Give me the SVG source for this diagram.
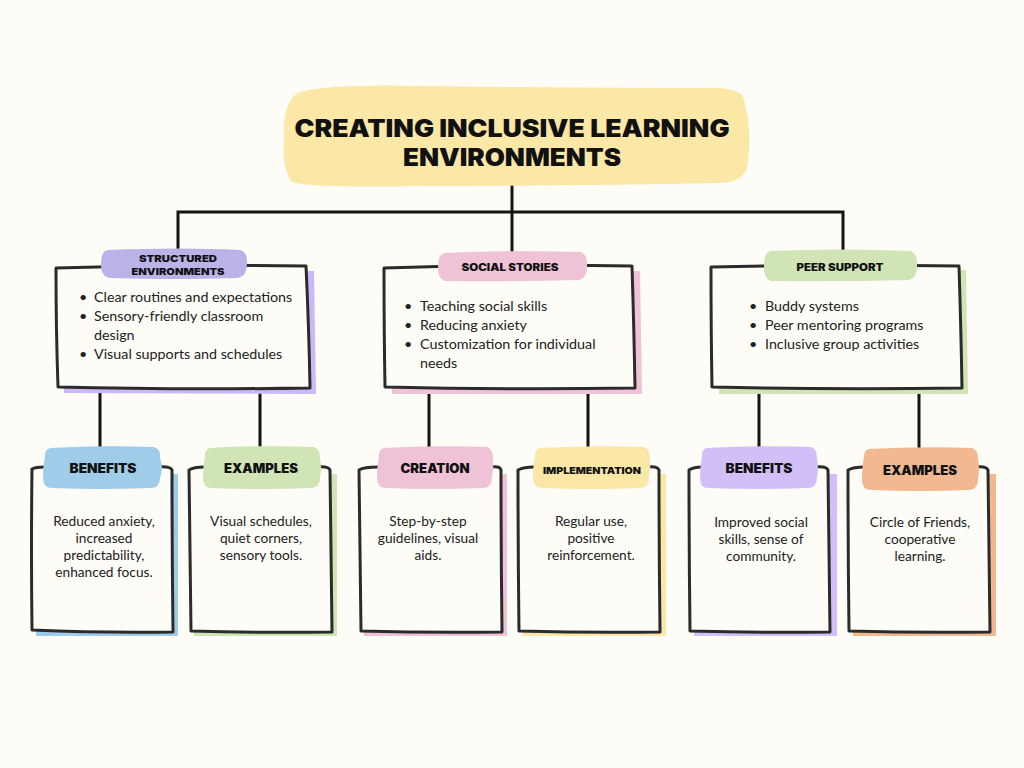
<svg xmlns="http://www.w3.org/2000/svg" width="1024" height="768" viewBox="0 0 1024 768">
<style>
.bg{fill:#fdfcf7}
.box{fill:#fdfcf7;stroke:#2b2b2b;stroke-width:3;stroke-linejoin:round;stroke-linecap:round}
.conn{stroke:#141414;stroke-width:3;fill:none;stroke-linecap:square}
.h{font-family:Inter,"DejaVu Sans",sans-serif;font-weight:900;fill:#111;text-anchor:middle}
.b{font-family:Lato,"Noto Sans",sans-serif;font-size:14.3px;fill:#222}
.c{font-family:Lato,"Noto Sans",sans-serif;font-size:13.7px;fill:#222;text-anchor:middle}
</style>
<rect class="bg" width="1024" height="768"/>

<g id="connectors">
<path class="conn" d="M512 186 V212 M178 212 H843 M178 212 V252 M512 212 V254 M843 212 V252"/>
<path class="conn" d="M100 389 V447 M260 389 V447 M429 389 V447 M588 389 V447 M759 389 V447 M919 389 V447"/>
</g>

<g id="title">
<path d="M300 92 Q330 84 420 86 Q560 88 700 88 Q742 86 744 100 Q752 130 748 160 Q748 182 720 183 Q560 186 420 186 Q310 188 292 182 Q282 170 284 140 Q282 100 300 92 Z" fill="#fbe8a6"/>
<text class="h" x="512" y="137" font-size="24" textLength="435" lengthAdjust="spacingAndGlyphs">CREATING INCLUSIVE LEARNING</text>
<text class="h" x="512" y="166" font-size="24" textLength="218" lengthAdjust="spacingAndGlyphs">ENVIRONMENTS</text>
</g>

<g id="structured">
<path d="M62 273 L314 271 L316 394 L64 393 Z" fill="#cbb8f7"/>
<path class="box" d="M56 268 Q180 264 306 266 Q309 330 310 388 Q180 390 58 387 Q56 330 56 268 Z"/>
<path d="M108 250 Q180 247 240 250 Q248 252 247 264 Q247 276 238 278 Q170 280 110 278 Q101 277 101 264 Q101 251 108 250 Z" fill="#bab3e8"/>
<text class="h" x="178" y="262" font-size="9.5" textLength="78" lengthAdjust="spacingAndGlyphs">STRUCTURED</text>
<text class="h" x="178" y="275" font-size="9.5" textLength="93" lengthAdjust="spacingAndGlyphs">ENVIRONMENTS</text>
<text class="b" x="79" y="302">•</text><text class="b" x="94" y="302">Clear routines and expectations</text>
<text class="b" x="79" y="321">•</text><text class="b" x="94" y="321">Sensory-friendly classroom</text>
<text class="b" x="94" y="340">design</text>
<text class="b" x="79" y="359">•</text><text class="b" x="94" y="359">Visual supports and schedules</text>
</g>

<g id="social">
<path d="M390 272 L640 271 L642 394 L392 394 Z" fill="#efc2d5"/>
<path class="box" d="M384 268 Q510 264 632 266 Q634 330 635 388 Q510 390 385 387 Q384 330 384 268 Z"/>
<path d="M445 253 Q512 250 580 252 Q588 254 587 266 Q587 279 578 280 Q512 282 446 281 Q438 280 438 267 Q438 254 445 253 Z" fill="#efc2d5"/>
<text class="h" x="510" y="271" font-size="10" textLength="97" lengthAdjust="spacingAndGlyphs">SOCIAL STORIES</text>
<text class="b" x="404" y="311">•</text><text class="b" x="420" y="311">Teaching social skills</text>
<text class="b" x="404" y="330">•</text><text class="b" x="420" y="330">Reducing anxiety</text>
<text class="b" x="404" y="349">•</text><text class="b" x="420" y="349">Customization for individual</text>
<text class="b" x="420" y="368">needs</text>
</g>

<g id="peer">
<path d="M717 271 L966 270 L968 394 L719 394 Z" fill="#d0e4b6"/>
<path class="box" d="M711 267 Q835 264 959 266 Q961 330 962 388 Q835 390 712 387 Q711 330 711 267 Z"/>
<path d="M771 251 Q840 248 910 251 Q918 253 917 266 Q917 279 908 280 Q840 282 772 281 Q764 280 764 266 Q764 252 771 251 Z" fill="#d0e4b6"/>
<text class="h" x="840" y="271" font-size="10" textLength="87" lengthAdjust="spacingAndGlyphs">PEER SUPPORT</text>
<text class="b" x="749" y="311">•</text><text class="b" x="765" y="311">Buddy systems</text>
<text class="b" x="749" y="330">•</text><text class="b" x="765" y="330">Peer mentoring programs</text>
<text class="b" x="749" y="349">•</text><text class="b" x="765" y="349">Inclusive group activities</text>
</g>

<g id="benefits1">
<path d="M36 474 L178 474 L178 636 L36 636 Z" fill="#9fcde9"/>
<path class="box" d="M32 469 Q36 467 44 467 M158 467 Q170 466 172 470 Q172 550 173 632 Q100 633 32 630 Q31 550 32 469"/>
<path d="M50 448 Q100 445 154 447 Q161 449 160 458 Q164 468 160 478 Q160 488 150 488 Q100 490 52 488 Q43 488 43 478 Q43 466 45 456 Q45 449 50 448 Z" fill="#9fcde9"/>
<text class="h" x="103" y="473" font-size="12.5" textLength="67" lengthAdjust="spacingAndGlyphs">BENEFITS</text>
<text class="c" x="104" y="526">Reduced anxiety,</text>
<text class="c" x="104" y="543">increased</text>
<text class="c" x="104" y="560">predictability,</text>
<text class="c" x="104" y="577">enhanced focus.</text>
</g>

<g id="examples1">
<path d="M194 474 L337 474 L337 636 L194 636 Z" fill="#d0e4b6"/>
<path class="box" d="M189 470 Q194 467 204 467 M318 467 Q328 466 330 470 Q331 550 332 632 Q260 633 191 631 Q190 550 189 470"/>
<path d="M210 448 Q262 445 314 447 Q320 449 320 458 Q322 468 320 478 Q320 488 310 488 Q262 490 212 488 Q203 488 203 478 Q203 466 205 456 Q205 449 210 448 Z" fill="#d0e4b6"/>
<text class="h" x="261" y="473" font-size="12.5" textLength="74" lengthAdjust="spacingAndGlyphs">EXAMPLES</text>
<text class="c" x="261" y="526">Visual schedules,</text>
<text class="c" x="261" y="543">quiet corners,</text>
<text class="c" x="261" y="560">sensory tools.</text>
</g>

<g id="creation">
<path d="M364 474 L507 474 L507 636 L364 636 Z" fill="#efc2d5"/>
<path class="box" d="M359 470 Q364 467 378 467 M492 467 Q500 466 501 470 Q501 550 502 632 Q430 633 361 631 Q360 550 359 470"/>
<path d="M384 448 Q435 445 487 447 Q493 449 493 458 Q494 468 492 478 Q492 488 482 488 Q435 490 386 488 Q377 488 377 478 Q377 466 379 456 Q379 449 384 448 Z" fill="#efc2d5"/>
<text class="h" x="435" y="473" font-size="12.5" textLength="69" lengthAdjust="spacingAndGlyphs">CREATION</text>
<text class="c" x="428" y="526">Step-by-step</text>
<text class="c" x="428" y="543">guidelines, visual</text>
<text class="c" x="428" y="560">aids.</text>
</g>

<g id="implementation">
<path d="M523 474 L666 474 L666 636 L523 636 Z" fill="#fbe8a6"/>
<path class="box" d="M518 470 Q524 467 534 467 M648 467 Q657 466 659 470 Q659 550 660 632 Q590 633 519 631 Q518 550 518 470"/>
<path d="M540 448 Q592 445 644 447 Q650 449 650 458 Q651 468 649 478 Q649 488 639 488 Q592 490 542 488 Q533 488 533 478 Q533 466 535 456 Q535 449 540 448 Z" fill="#fbe8a6"/>
<text class="h" x="592" y="474" font-size="9.5" textLength="98" lengthAdjust="spacingAndGlyphs">IMPLEMENTATION</text>
<text class="c" x="591" y="526">Regular use,</text>
<text class="c" x="591" y="543">positive</text>
<text class="c" x="591" y="560">reinforcement.</text>
</g>

<g id="benefits2">
<path d="M694 474 L837 474 L837 636 L694 636 Z" fill="#d3bff8"/>
<path class="box" d="M689 470 Q694 467 702 467 M816 467 Q826 466 828 470 Q829 550 830 632 Q760 633 690 631 Q689 550 689 470"/>
<path d="M706 448 Q759 445 811 447 Q817 449 817 458 Q819 468 817 478 Q817 488 807 488 Q759 490 708 488 Q700 488 700 478 Q700 466 702 456 Q702 449 706 448 Z" fill="#d3bff8"/>
<text class="h" x="759" y="473" font-size="12.5" textLength="67" lengthAdjust="spacingAndGlyphs">BENEFITS</text>
<text class="c" x="761" y="527">Improved social</text>
<text class="c" x="761" y="544">skills, sense of</text>
<text class="c" x="761" y="561">community.</text>
</g>

<g id="examples2">
<path d="M853 474 L996 474 L996 636 L853 636 Z" fill="#f2b890"/>
<path class="box" d="M848 470 Q854 467 864 467 M976 467 Q986 466 988 470 Q989 550 990 632 Q920 633 849 631 Q848 550 848 470"/>
<path d="M869 449 Q920 446 972 448 Q978 450 978 459 Q980 469 978 479 Q978 490 968 490 Q920 492 871 490 Q862 490 862 480 Q862 467 864 457 Q864 450 869 449 Z" fill="#f2b890"/>
<text class="h" x="920" y="475" font-size="12.5" textLength="74" lengthAdjust="spacingAndGlyphs">EXAMPLES</text>
<text class="c" x="920" y="527">Circle of Friends,</text>
<text class="c" x="920" y="544">cooperative</text>
<text class="c" x="920" y="561">learning.</text>
</g>
</svg>
